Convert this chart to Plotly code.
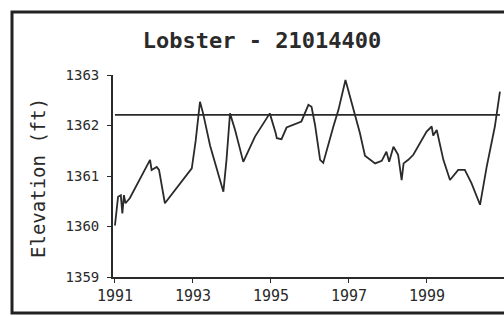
import plotly.graph_objects as go

# Data (decimal years, elevation in ft)
years = [1991.00, 1991.08, 1991.15, 1991.19, 1991.23, 1991.27, 1991.38, 1991.90, 1991.94,
         1992.07, 1992.13, 1992.28, 1992.97, 1993.07, 1993.18, 1993.26, 1993.44, 1993.78,
         1993.86, 1993.95, 1994.08, 1994.29, 1994.59, 1994.75, 1994.97, 1995.12, 1995.15,
         1995.27, 1995.40, 1995.78, 1995.96, 1996.04, 1996.13, 1996.26, 1996.34, 1996.60,
         1996.73, 1996.91, 1997.03, 1997.28, 1997.41, 1997.67, 1997.84, 1997.96, 1998.03,
         1998.14, 1998.26, 1998.35, 1998.40, 1998.52, 1998.65, 1998.99, 1999.12, 1999.16,
         1999.25, 1999.42, 1999.59, 1999.80, 1999.97, 2000.14, 2000.36, 2000.53, 2000.74,
         2000.87]
elevation = [1360.02, 1360.59, 1360.62, 1360.26, 1360.62, 1360.46, 1360.56, 1361.32, 1361.12,
             1361.18, 1361.12, 1360.46, 1361.15, 1361.70, 1362.47, 1362.24, 1361.60, 1360.69,
             1361.32, 1362.24, 1361.91, 1361.28, 1361.78, 1361.98, 1362.24, 1361.85, 1361.75,
             1361.73, 1361.96, 1362.08, 1362.41, 1362.37, 1362.01, 1361.32, 1361.26, 1361.98,
             1362.31, 1362.90, 1362.57, 1361.85, 1361.40, 1361.25, 1361.30, 1361.48, 1361.28,
             1361.58, 1361.42, 1360.92, 1361.25, 1361.32, 1361.42, 1361.88, 1361.98, 1361.80,
             1361.91, 1361.32, 1360.92, 1361.12, 1361.12, 1360.86, 1360.43, 1361.18, 1361.98,
             1362.67]
reference_level = 1362.21
x_ticks = [1991, 1993, 1995, 1997, 1999]
y_ticks = [1359, 1360, 1361, 1362, 1363]
title_text = "Lobster - 21014400"
y_title = "Elevation (ft)"

W, H = 504, 316
L, R, T, B = 113, 0, 75, 39
pw, ph = W - L - R, H - T - B

def px_x(p):
    return (p - L) / pw

def px_y(p):
    return (H - B - p) / ph

ink = "#2a2a2a"
mono = "DejaVu Sans Mono"

fig = go.Figure()
fig.add_trace(go.Scatter(x=[years[0], years[-1]], y=[reference_level, reference_level],
                         mode="lines", line=dict(color=ink, width=1.8),
                         hoverinfo="skip", showlegend=False))
fig.add_trace(go.Scatter(x=years, y=elevation, mode="lines",
                         line=dict(color=ink, width=1.8), showlegend=False))

fig.update_layout(
    width=W, height=H,
    margin=dict(l=L, r=R, t=T, b=B),
    paper_bgcolor="white", plot_bgcolor="white",
    title=dict(text=title_text, x=262 / W, y=1 - 40 / H, xanchor="center", yanchor="middle",
               font=dict(family=mono, size=22, color=ink, weight="bold")),
    xaxis=dict(range=[1990.95, 1991 + (W - 115) / 39.0], tickvals=x_ticks,
               ticks="outside", ticklen=4, tickcolor=ink, showline=True, linecolor=ink,
               linewidth=1.8, showgrid=False, zeroline=False,
               tickfont=dict(family=mono, size=15, color=ink)),
    yaxis=dict(range=[1359, 1363], tickvals=y_ticks, ticks="outside", ticklen=4,
               tickcolor=ink, showline=True, linecolor=ink, linewidth=1.8,
               showgrid=False, zeroline=False, ticklabelstandoff=5,
               tickfont=dict(family=mono, size=14, color=ink)),
    annotations=[dict(text=y_title, textangle=-90, xref="paper", yref="paper",
                      x=px_x(38), y=px_y(178), xanchor="center", yanchor="middle",
                      showarrow=False, font=dict(family=mono, size=19, color=ink))],
    shapes=[dict(type="rect", xref="paper", yref="paper",
                 x0=px_x(12), x1=px_x(540), y0=px_y(313), y1=px_y(12),
                 line=dict(color="#222", width=3))],
)

fig.write_html("out.html", config={"displayModeBar": False},
               post_script="document.body.style.margin='0';document.body.style.overflow='hidden';")
